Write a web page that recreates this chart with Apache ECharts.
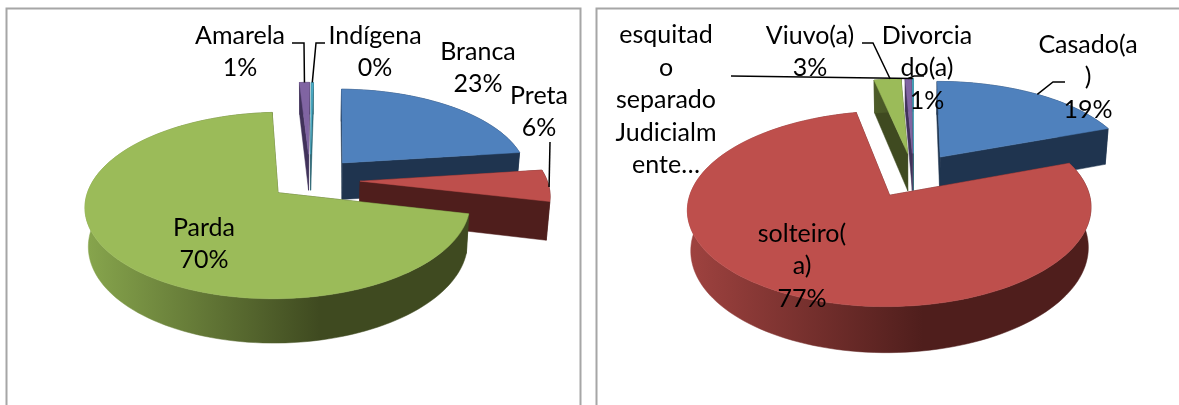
<!DOCTYPE html>
<html>
<head>
<meta charset="utf-8">
<title>Raça e estado civil</title>
<script src="https://cdn.jsdelivr.net/npm/echarts@6/dist/echarts.min.js"></script>
<style>
html,body{margin:0;padding:0;background:#fff;}
#main{width:1179px;height:405px;}
</style>
</head>
<body>
<div id="main"></div>
<script>
// data
var racaNames = ['Branca', 'Preta', 'Parda', 'Amarela', 'Indígena'];
var racaValues = [22.6, 5.6, 70.2, 1, 0.2];

var civilNames = ['Casado(a\n)', 'solteiro(\na)', 'Viuvo(a)', 'Divorcia\ndo(a)', 'esquitad\no\nseparado\nJudicialm\nente…'];
var civilValues = [19.3, 77.3, 2.6, 0.6, 0.1];

// slice colours: top face, dark wall, light end of the wall gradient
var colors = {
	blue: ['#4f81bd', '#1f344f', '#1f344f'],
	red: ['#be4f4c', '#4f1e1c', '#a04340'],
	green: ['#9bbb59', '#3f4a20', '#86a44c'],
	purple: ['#8064a2', '#41325a', '#41325a'],
	cyan: ['#4bacc6', '#25606f', '#25606f']
};

var charts = [
	{
		names: racaNames, values: racaValues,
		cx: 310, cy: 180, R: 187, B: 88, h: 37.5, rotate: 1,
		explode: [50, 50, 41, 57, 57],
		colors: ['blue', 'red', 'green', 'purple', 'cyan'],
		paint: [4, 3, 0, 1, 2],
		labels: [[478, 68], [539, 112], [204, 244], [240, 52], [375, 52]],
		leaders: [null, [[550, 142]], null, [[292, 43], [304, 43]], [[325, 43], [316, 43]]]
	},
	{
		names: civilNames, values: civilValues,
		cx: 913.5, cy: 175, R: 194, B: 90.4, h: 38.5, rotate: 0,
		explode: [48, 48, 48, 48, 48],
		colors: ['blue', 'red', 'green', 'purple', 'cyan'],
		paint: [4, 3, 2, 0, 1],
		labels: [[1088, 77], [802, 266], [810, 52], [927, 68], [666, 100]],
		leaders: [[[1065, 82], [1053, 82]], null, [[862, 43], [873, 43]], [[924, 76], [914, 76]], [[731, 76]]]
	}
];

var K = 0.135; // perspective strength

function project(c, deg, r, e, mid, lower) {
	var a = deg * Math.PI / 180, m = mid * Math.PI / 180;
	var X = r * Math.sin(a) + e * Math.sin(m);
	var Z = r * Math.cos(a) + e * Math.cos(m);
	var s = 1 / (1 + K * Z / c.R);
	var x = X * s * (lower ? 0.985 : 1);
	var y = -c.B * Z / c.R * s + (lower ? c.h * s : 0);
	return [c.cx + x, c.cy + y];
}

function arc(c, from, to, e, mid, lower) {
	var pts = [], n = Math.max(2, Math.ceil((to - from) / 2)), i;
	for (i = 0; i <= n; i++) {
		pts.push(project(c, from + (to - from) * i / n, c.R, e, mid, lower));
	}
	return pts;
}

function makeRender(c) {
	return function (params, api) {
		var idx = api.value(0);
		var total = api.value(3);
		var from = api.value(2) / total * 360 + c.rotate;
		var to = from + api.value(1) / total * 360;
		var mid = (from + to) / 2;
		var e = c.explode[idx];
		var col = colors[c.colors[idx]];
		var wall = new echarts.graphic.LinearGradient(
			c.cx - c.R * 1.18, 0, c.cx + c.R * 0.05, 0,
			[{offset: 0, color: col[2]}, {offset: 1, color: col[1]}], true);

		var topArc = arc(c, from, to, e, mid, false);
		var lowArc = arc(c, from, to, e, mid, true);
		var apexTop = project(c, 0, 0, e, mid, false);
		var apexLow = project(c, 0, 0, e, mid, true);
		var last = topArc.length - 1;
		var kids = [];

		function face(points, fill) {
			kids.push({type: 'polygon', shape: {points: points}, style: {fill: fill, stroke: fill, lineWidth: 0.5}});
		}
		face([apexTop, topArc[0], lowArc[0], apexLow], col[1]);
		face([apexTop, topArc[last], lowArc[last], apexLow], col[1]);
		face(topArc.concat(lowArc.slice().reverse()), wall);
		face([apexTop].concat(topArc), col[0]);

		// leader line ends on the slice rim
		var lead = c.leaders[idx];
		if (lead) {
			kids.push({
				type: 'polyline', z2: 50,
				shape: {points: lead.concat([topArc[Math.round(last / 2)]])},
				style: {fill: null, stroke: '#000', lineWidth: 1.5}
			});
		}

		var name = c.names[idx];
		var text = name;
		if (name.charAt(name.length - 1) !== '…') {
			text = name + '\n' + Math.round(api.value(1) / total * 100) + '%';
		}
		kids.push({
			type: 'text', z2: 100,
			x: c.labels[idx][0], y: c.labels[idx][1],
			style: {
				text: text, fill: '#000', fontFamily: 'Lato', fontSize: 25, lineHeight: 32.5,
				textAlign: 'center', textVerticalAlign: 'middle'
			}
		});
		return {type: 'group', children: kids};
	};
}

function rows(c) {
	var total = 0, before = [], i;
	for (i = 0; i < c.values.length; i++) {
		before.push(total);
		total += c.values[i];
	}
	return c.paint.map(function (k) {
		return [k, c.values[k], before[k], total];
	});
}

var chart = echarts.init(document.getElementById('main'));
chart.setOption({
	animation: false,
	backgroundColor: '#fff',
	graphic: [
		{type: 'rect', shape: {x: 6.5, y: 8.5, width: 574, height: 420}, style: {fill: 'none', stroke: '#a6a6a6', lineWidth: 2}},
		{type: 'rect', shape: {x: 596.5, y: 8.5, width: 600, height: 420}, style: {fill: 'none', stroke: '#a6a6a6', lineWidth: 2}}
	],
	series: charts.map(function (c) {
		return {
			type: 'custom',
			coordinateSystem: 'none',
			silent: true,
			renderItem: makeRender(c),
			data: rows(c)
		};
	})
});
</script>
</body>
</html>
